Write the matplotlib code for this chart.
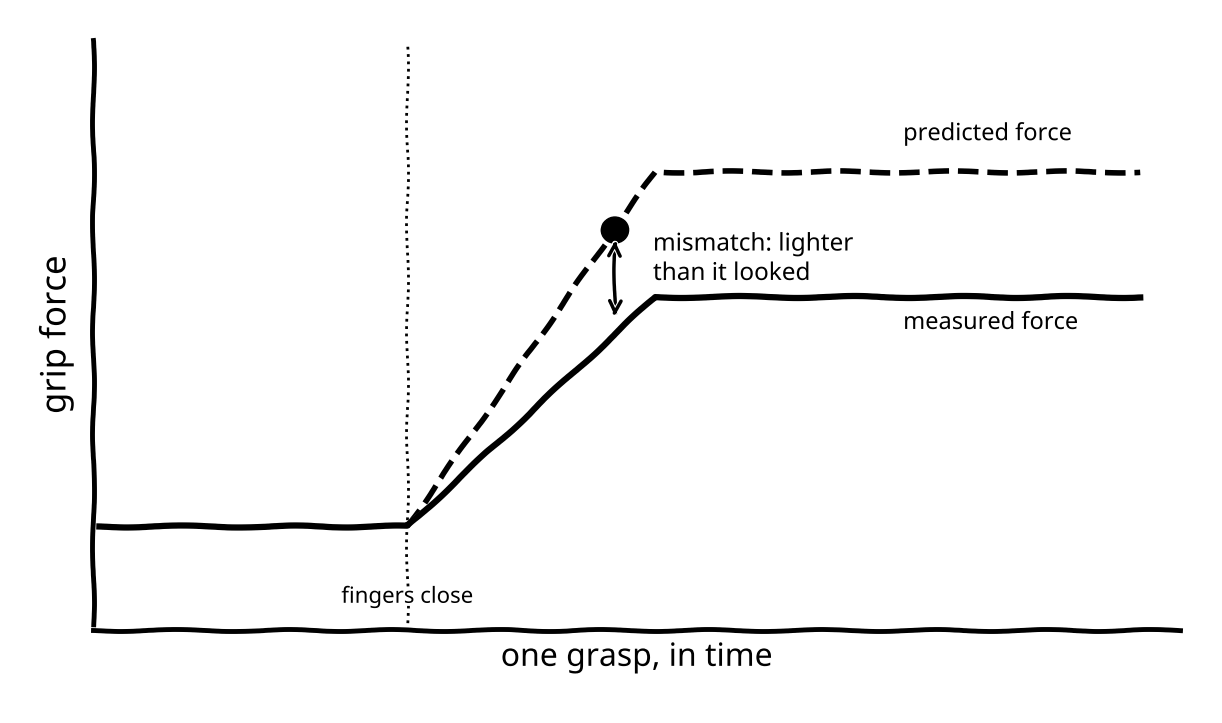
import numpy as np
import matplotlib
matplotlib.use("Agg")
import matplotlib.pyplot as plt

# time axis (arbitrary units) and grip force (arbitrary units)
measured_t = [0.06, 2.89, 5.17, 9.63]
measured_f = [1.75, 1.75, 5.64, 5.64]
predicted_t = [2.89, 5.17, 9.63]
predicted_f = [1.75, 7.76, 7.76]
contact_t = 2.89
mismatch_t = 4.80
mismatch_pred = 6.78
mismatch_meas = 5.25

plt.xkcd(scale=1, length=120, randomness=2)
plt.rcParams['font.family'] = ['Noto Sans', 'DejaVu Sans']

fig = plt.figure(figsize=(12.22, 7.23), dpi=100)
ax = fig.add_axes([0.076, 0.129, 0.89, 0.816])

ax.plot([contact_t, contact_t], [0, 9.9], color='black', linestyle=':', linewidth=2)
ax.plot(predicted_t, predicted_f, color='black', linestyle='--', linewidth=4)
ax.plot(measured_t, measured_f, color='black', linewidth=4.5)
ax.plot([mismatch_t], [mismatch_pred], 'o', color='black', markersize=19)
ax.annotate('', xy=(mismatch_t, mismatch_meas), xytext=(mismatch_t, mismatch_pred - 0.12),
            arrowprops=dict(arrowstyle='<->', color='black', lw=2.5, mutation_scale=22))

ax.text(5.15, 6.28, 'mismatch: lighter\nthan it looked', fontsize=17.5, va='center', ha='left',
        linespacing=1.3, bbox=dict(facecolor='white', edgecolor='none', pad=0))
ax.text(7.45, 8.4, 'predicted force', fontsize=17, va='center', ha='left')
ax.text(7.45, 5.2, 'measured force', fontsize=17, va='center', ha='left')
ax.text(contact_t, 0.55, 'fingers close', fontsize=16, va='center', ha='center')

ax.set_xlim(0, 10)
ax.set_ylim(0, 10)
ax.set_xticks([])
ax.set_yticks([])
ax.spines['top'].set_visible(False)
ax.spines['right'].set_visible(False)
ax.spines['left'].set_linewidth(3.5)
ax.spines['bottom'].set_linewidth(3.5)
ax.set_xlabel('one grasp, in time', fontsize=23, labelpad=8)
ax.set_ylabel('grip force', fontsize=25, labelpad=14)

fig.savefig('out.png', dpi=100)
